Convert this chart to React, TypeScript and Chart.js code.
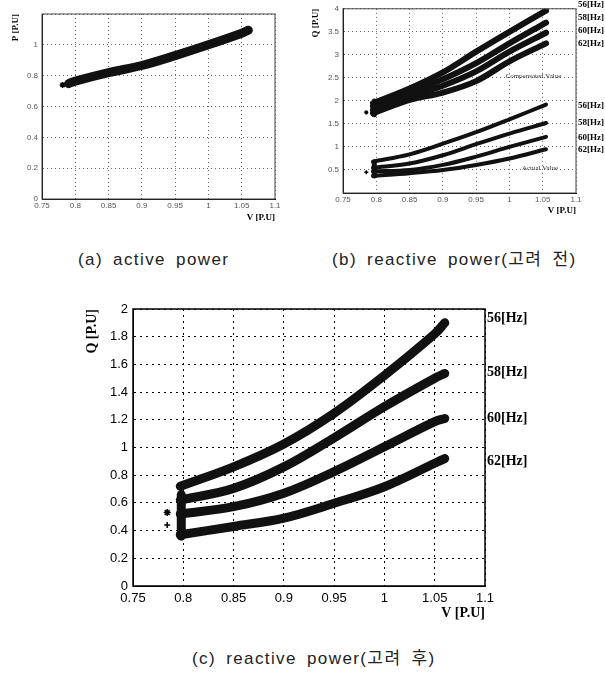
import React, { useEffect, useRef } from 'react';
import { Chart, registerables } from 'chart.js';
Chart.register(...registerables);

// ---------- (a) active power ----------
const voltA = [0.79, 0.8, 0.85, 0.9, 0.95, 1.0, 1.05, 1.06];
const activeP = [0.748, 0.765, 0.82, 0.866, 0.93, 1.0, 1.075, 1.095];
const outlierAV = [0.781];
const outlierAP = [0.74];

// ---------- (b) reactive power (before) ----------
const voltB = [0.795, 0.85, 0.9, 0.95, 1.0, 1.055];
const comp56 = [1.95, 2.27, 2.62, 3.07, 3.5, 3.96];
const comp58 = [1.88, 2.18, 2.47, 2.82, 3.25, 3.7];
const comp60 = [1.8, 2.1, 2.33, 2.64, 3.07, 3.48];
const comp62 = [1.73, 2.02, 2.18, 2.43, 2.86, 3.25];
const act56 = [0.68, 0.84, 1.07, 1.32, 1.6, 1.92];
const act58 = [0.55, 0.64, 0.82, 1.06, 1.29, 1.52];
const act60 = [0.47, 0.5, 0.61, 0.79, 1.0, 1.22];
const act62 = [0.37, 0.43, 0.5, 0.61, 0.75, 0.95];
const clusterBV = [0.797, 0.797];
const clusterBComp = [1.7, 2.0];
const clusterBAct = [0.37, 0.68];
const outlierBV = [0.785];
const outlierBComp = [1.75];
const outlierBAct = [0.45];
const labelQBComp = [4.08, 3.8, 3.52, 3.24];
const labelQBAct = [1.9, 1.53, 1.21, 0.95];
const noteTexts = ['Compensated Value', 'Actual Value'];
const noteV = [1.036, 1.046];
const noteQ = [2.53, 0.54];

// ---------- (c) reactive power (after) ----------
const voltC = [0.797, 0.85, 0.9, 0.95, 1.0, 1.05, 1.06];
const q56 = [0.72, 0.86, 1.025, 1.247, 1.52, 1.82, 1.9];
const q58 = [0.62, 0.705, 0.86, 1.07, 1.295, 1.5, 1.535];
const q60 = [0.52, 0.573, 0.67, 0.826, 1.006, 1.187, 1.21];
const q62 = [0.37, 0.43, 0.49, 0.597, 0.717, 0.886, 0.92];
const clusterCV = [0.798, 0.798];
const clusterCQ = [0.36, 0.66];
const outlierCStarV = [0.784];
const outlierCStarQ = [0.53];
const outlierCPlusV = [0.784];
const outlierCPlusQ = [0.44];
const labelQC = [1.93, 1.545, 1.21, 0.9];

const hzLabels = ['56[Hz]', '58[Hz]', '60[Hz]', '62[Hz]'];

const fmt = (v: number) => String(Math.round(v * 100) / 100);
const pts = (xs: number[], ys: number[]) => xs.map((x, i) => ({ x, y: ys[i] }));

const band = (xs: number[], ys: number[], w: number, star: number) => ({
  type: 'line',
  data: pts(xs, ys),
  borderColor: '#111',
  borderWidth: w,
  borderCapStyle: 'round',
  borderJoinStyle: 'round',
  pointStyle: 'star',
  pointRadius: star,
  pointBorderColor: '#111',
  pointBorderWidth: 1.5,
  pointBackgroundColor: '#111',
  tension: 0.35,
  fill: false,
});

const marker = (xs: number[], ys: number[], style: string, r: number) => ({
  type: 'line',
  data: pts(xs, ys),
  showLine: false,
  pointStyle: style,
  pointRadius: r,
  pointBorderColor: '#000',
  pointBorderWidth: 1.5,
  pointBackgroundColor: '#000',
});

const framePlugin = {
  id: 'frame',
  afterDatasetsDraw(chart: any, _a: any, opts: any) {
    const { ctx, chartArea: a } = chart;
    const xs = chart.scales.x;
    const ys = chart.scales.y;
    ctx.save();
    ctx.setLineDash([]);
    ctx.strokeStyle = opts.color || '#000';
    ctx.lineWidth = opts.width || 1;
    ctx.strokeRect(a.left, a.top, a.right - a.left, a.bottom - a.top);
    ctx.textBaseline = 'middle';
    ctx.fillStyle = '#000';
    (opts.side || []).forEach((l: any) => {
      ctx.font = l.font;
      ctx.textAlign = 'left';
      ctx.fillText(l.text, a.right + l.dx, ys.getPixelForValue(l.value));
    });
    (opts.notes || []).forEach((n: any) => {
      ctx.font = n.font;
      ctx.textAlign = 'center';
      ctx.fillStyle = n.color;
      ctx.fillText(n.text, xs.getPixelForValue(n.x), ys.getPixelForValue(n.y));
    });
    ctx.restore();
  },
};

function axes(p: any) {
  const tickFont = { family: '"Liberation Sans", Arial, sans-serif', size: p.tickSize };
  const titleFont = { family: '"Liberation Serif", serif', size: p.titleSize, weight: 'bold' };
  return {
    x: {
      type: 'linear',
      min: 0.75,
      max: 1.1,
      ticks: { stepSize: 0.05, font: tickFont, color: p.tickColor, padding: p.xTickPad, maxRotation: 0, autoSkip: false, callback: (v: number) => fmt(v) },
      grid: { color: p.gridColor, lineWidth: 1, drawTicks: false },
      border: { display: true, color: '#000', dash: p.dash },
      title: { display: true, text: 'V [P.U]', align: 'end', font: titleFont, color: '#000', padding: { top: 0, bottom: p.xTitlePad } },
      afterFit: (s: any) => { s.height = p.xHeight; },
    },
    y: {
      type: 'linear',
      min: p.yMin,
      max: p.yMax,
      ticks: { stepSize: p.yStep, font: tickFont, color: p.tickColor, padding: p.yTickPad, autoSkip: false, callback: (v: number) => (p.hideY(v) ? '' : fmt(v)) },
      grid: { color: p.gridColor, lineWidth: 1, drawTicks: false },
      border: { display: true, color: '#000', dash: p.dash },
      title: { display: true, text: p.yTitle, align: 'end', font: titleFont, color: '#000', padding: { top: p.yTitlePad, bottom: 0 } },
      afterFit: (s: any) => { s.width = p.yWidth; },
    },
  };
}

function PlotCanvas({ config, left, top, w, h }: any) {
  const ref = useRef<HTMLCanvasElement>(null);
  useEffect(() => {
    const chart = new Chart(ref.current as HTMLCanvasElement, config);
    return () => chart.destroy();
  }, []);
  return (
    <div style={{ position: 'absolute', left, top, width: w, height: h }}>
      <canvas ref={ref} width={w} height={h} style={{ width: w, height: h, display: 'block' }} />
    </div>
  );
}

const baseOpts = (padding: any, scales: any, frame: any) => ({
  responsive: false,
  animation: false,
  events: [],
  layout: { padding },
  scales,
  plugins: { legend: { display: false }, tooltip: { enabled: false }, frame },
});

const configA = {
  type: 'line',
  data: {
    datasets: [band(voltA, activeP, 9, 0), marker(outlierAV, outlierAP, 'star', 3)],
  },
  options: baseOpts(
    { left: 0, top: 14, right: 25, bottom: 8 },
    axes({ yMin: 0, yMax: 1.2, yStep: 0.2, hideY: (v: number) => v > 1.1, tickSize: 8, tickColor: '#555', titleSize: 9, yTitle: 'P [P.U]', yWidth: 42, xHeight: 28, yTitlePad: 10, xTitlePad: 4, dash: [1, 3], gridColor: '#666', xTickPad: 2, yTickPad: 4 }),
    { width: 1, color: '#444' }
  ),
  plugins: [framePlugin],
};

const sideFontB = 'bold 9px "Liberation Serif", serif';
const configB = {
  type: 'line',
  data: {
    datasets: [
      band(voltB, comp56, 6, 0),
      band(voltB, comp58, 6, 0),
      band(voltB, comp60, 6, 0),
      band(voltB, comp62, 6, 0),
      band(voltB, act56, 4, 0),
      band(voltB, act58, 4, 0),
      band(voltB, act60, 4, 0),
      band(voltB, act62, 4, 0),
      band(clusterBV, clusterBComp, 5, 0),
      band(clusterBV, clusterBAct, 5, 0),
      marker(outlierBV, outlierBComp, 'star', 2),
      marker(outlierBV, outlierBAct, 'cross', 2),
    ],
  },
  options: baseOpts(
    { left: 0, top: 8, right: 29, bottom: 14 },
    axes({ yMin: 0, yMax: 4, yStep: 0.5, hideY: (v: number) => v < 0.01, tickSize: 8, tickColor: '#555', titleSize: 9, yTitle: 'Q [P.U]', yWidth: 43, xHeight: 28, yTitlePad: 10, xTitlePad: 5, dash: [1, 3], gridColor: '#666', xTickPad: 2, yTickPad: 4 }),
    {
      width: 1,
      color: '#444',
      side: [
        ...hzLabels.map((t, i) => ({ text: t, value: labelQBComp[i], font: sideFontB, dx: 2 })),
        ...hzLabels.map((t, i) => ({ text: t, value: labelQBAct[i], font: sideFontB, dx: 2 })),
      ],
      notes: noteTexts.map((t, i) => ({ text: t, x: noteV[i], y: noteQ[i], font: '7px "Liberation Serif", serif', color: '#333' })),
    }
  ),
  plugins: [framePlugin],
};

const sideFontC = 'bold 14px "Liberation Serif", serif';
const configC = {
  type: 'line',
  data: {
    datasets: [
      band(voltC, q56, 9, 4),
      band(voltC, q58, 9, 4),
      band(voltC, q60, 9, 4),
      band(voltC, q62, 9, 4),
      band(clusterCV, clusterCQ, 9, 0),
      marker(outlierCStarV, outlierCStarQ, 'star', 3.5),
      marker(outlierCPlusV, outlierCPlusQ, 'cross', 3),
    ],
  },
  options: baseOpts(
    { left: 80, top: 24, right: 120, bottom: 8 },
    axes({ yMin: 0, yMax: 2, yStep: 0.2, hideY: () => false, tickSize: 13, tickColor: '#000', titleSize: 14, yTitle: 'Q [P.U]', yWidth: 53, xHeight: 36, yTitlePad: 4, xTitlePad: 0, dash: [2, 4], gridColor: '#000', xTickPad: 5, yTickPad: 5 }),
    {
      width: 1.5,
      color: '#000',
      side: hzLabels.map((t, i) => ({ text: t, value: labelQC[i], font: sideFontC, dx: 2 })),
    }
  ),
  plugins: [framePlugin],
};

const captionStyle: any = {
  position: 'absolute',
  fontFamily: '"Liberation Sans", Arial, "Noto Sans CJK KR", sans-serif',
  fontSize: 17,
  lineHeight: '20px',
  letterSpacing: '1.4px',
  wordSpacing: '4px',
  color: '#222',
  whiteSpace: 'pre',
};

export default function App() {
  return (
    <div style={{ position: 'absolute', left: 0, top: 0, width: 605, height: 680, background: '#fff', overflow: 'hidden' }}>
      <PlotCanvas config={configA} left={0} top={0} w={300} h={235} />
      <PlotCanvas config={configB} left={300} top={0} w={305} h={235} />
      <PlotCanvas config={configC} left={0} top={285} w={605} h={345} />
      <div style={{ ...captionStyle, left: 78, top: 250 }}>(a) active power</div>
      <div style={{ ...captionStyle, left: 332, top: 250 }}>(b) reactive power(고려 전)</div>
      <div style={{ ...captionStyle, left: 192, top: 649 }}>(c) reactive power(고려 후)</div>
    </div>
  );
}
